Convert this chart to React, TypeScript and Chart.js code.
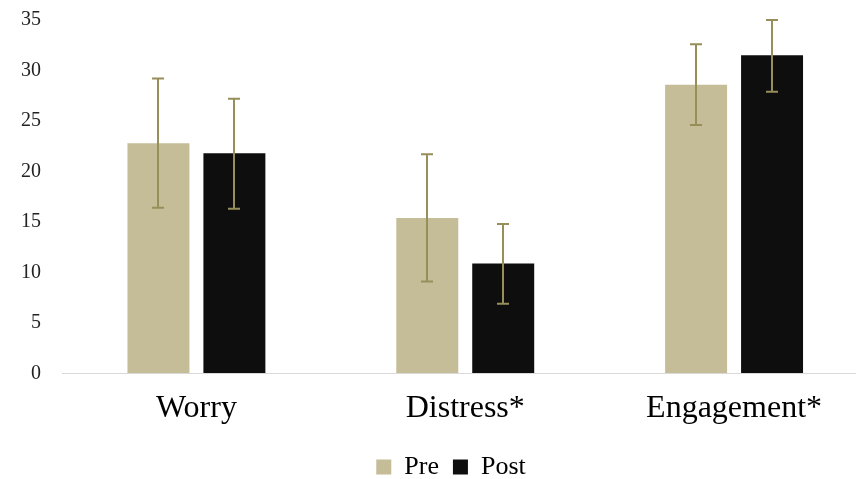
import React, { useEffect, useRef } from "react";
import { Chart, registerables } from "chart.js";

Chart.register(...registerables);

const categories = ["Worry", "Distress*", "Engagement*"];
const preValues = [22.8, 15.4, 28.6];
const postValues = [21.8, 10.9, 31.5];
const preLow = [16.4, 9.1, 24.6];
const preHigh = [29.2, 21.7, 32.6];
const postLow = [16.3, 6.9, 27.9];
const postHigh = [27.2, 14.8, 35.0];
const yMax = 35;
const yStep = 5;

const errorBars = {
  id: "errorBars",
  afterDatasetsDraw(chart: any) {
    const ctx = chart.ctx;
    const y = chart.scales.y;
    const ranges = [
      [preLow, preHigh],
      [postLow, postHigh],
    ];
    ctx.save();
    ctx.strokeStyle = "#968f5a";
    ctx.lineWidth = 2;
    chart.data.datasets.forEach((_: any, di: number) => {
      const meta = chart.getDatasetMeta(di);
      meta.data.forEach((bar: any, i: number) => {
        const lo = y.getPixelForValue(ranges[di][0][i]);
        const hi = y.getPixelForValue(ranges[di][1][i]);
        const x = Math.round(bar.x);
        ctx.beginPath();
        ctx.moveTo(x, lo);
        ctx.lineTo(x, hi);
        ctx.moveTo(x - 6, lo);
        ctx.lineTo(x + 6, lo);
        ctx.moveTo(x - 6, hi);
        ctx.lineTo(x + 6, hi);
        ctx.stroke();
      });
    });
    ctx.restore();
  },
};

// centre the legend on the full plot width (as in the original, wider figure)
const legendShift = {
  id: "legendShift",
  afterLayout(chart: any) {
    const lg = chart.legend;
    if (!lg) return;
    const target = 451;
    const dx = target - (lg.left + lg.right) / 2;
    lg.left += dx;
    lg.right += dx;
  },
};

export default function App() {
  const ref = useRef<HTMLCanvasElement>(null);
  useEffect(() => {
    document.body.style.margin = "0";
    const chart = new Chart(ref.current!, {
      type: "bar",
      data: {
        labels: categories,
        datasets: [
          { label: "Pre", data: preValues, backgroundColor: "#c5bd98" },
          { label: "Post", data: postValues, backgroundColor: "#0e0e0e" },
        ],
      },
      options: {
        animation: false,
        responsive: false,
        devicePixelRatio: 1,
        layout: { padding: { left: 18, right: 3.5, top: 20, bottom: 0 } },
        datasets: { bar: { barPercentage: 0.816, categoryPercentage: 0.565 } },
        scales: {
          x: {
            grid: { display: false },
            border: { display: true, color: "#d9d9d9", width: 1 },
            ticks: {
              color: "#000",
              padding: 8,
              font: { family: "Liberation Serif", size: 32 },
            },
            afterFit(scale: any) {
              scale.height = 66.5;
            },
          },
          y: {
            min: 0,
            max: yMax,
            grid: {
              display: true,
              drawOnChartArea: false,
              drawTicks: true,
              tickLength: 18,
              color: "rgba(0,0,0,0)",
            },
            border: { display: false },
            ticks: {
              stepSize: yStep,
              color: "#222",
              padding: 3,
              font: { family: "Liberation Serif", size: 20 },
            },
          },
        },
        plugins: {
          tooltip: { enabled: false },
          legend: {
            position: "bottom",
            labels: {
              color: "#000",
              boxWidth: 15,
              boxHeight: 15,
              padding: 14,
              font: { family: "Liberation Serif", size: 26 },
            },
          },
        },
      },
      plugins: [errorBars, legendShift],
    });
    return () => chart.destroy();
  }, []);
  return (
    <div style={{ position: "relative", width: 856, height: 479, overflow: "hidden" }}>
      <canvas ref={ref} width={872} height={490} style={{ position: "absolute", left: 0, top: 0, width: 872, height: 490 }} />
    </div>
  );
}
